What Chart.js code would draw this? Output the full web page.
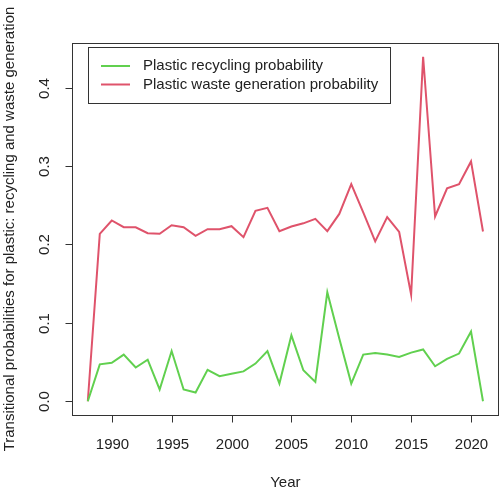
<!DOCTYPE html>
<html>
<head>
<meta charset="utf-8">
<script src="https://cdn.jsdelivr.net/npm/chart.js@4"></script>
<style>
  html, body { margin: 0; padding: 0; background: #fff; }
  #wrap { width: 500px; height: 493px; }
</style>
</head>
<body>
<div id="wrap"><canvas id="chart" width="500" height="493"></canvas></div>
<script>
// data
var years = [];
for (var y = 1988; y <= 2021; y++) years.push(y);

var recycling = [
  0.0, 0.047, 0.049, 0.0595, 0.043, 0.053, 0.015, 0.064, 0.015, 0.011,
  0.040, 0.032, 0.035, 0.038, 0.048, 0.064, 0.0225, 0.084, 0.0395, 0.0246,
  0.139, 0.080, 0.0225, 0.0595, 0.0615, 0.0595, 0.0565, 0.062, 0.066, 0.0446,
  0.054, 0.0608, 0.089, 0.0
];

var wasteGen = [
  0.0, 0.2136, 0.2306, 0.222, 0.222, 0.2144, 0.2136, 0.2246, 0.222, 0.211,
  0.2195, 0.2195, 0.2233, 0.2093, 0.243, 0.2467, 0.217, 0.223, 0.227, 0.2327,
  0.217, 0.239, 0.277, 0.241, 0.204, 0.235, 0.216, 0.136, 0.4395, 0.2357,
  0.2717, 0.277, 0.306, 0.2166
];

var xTicks = [1990, 1995, 2000, 2005, 2010, 2015, 2020];
var yTicks = [0.0, 0.1, 0.2, 0.3, 0.4];
var yTickLabels = ["0.0", "0.1", "0.2", "0.3", "0.4"];

var seriesNames = ["Plastic recycling probability", "Plastic waste generation probability"];
var seriesColors = ["#61D04F", "#DF536B"];

var xTitle = "Year";
var yTitle = "Transitional probabilities for plastic: recycling and waste generation";

var FONT = '15px "Liberation Sans", Arial, sans-serif';
var INK = "#222";

// R style axes, box and legend
var rAxes = {
  id: "rAxes",
  afterDraw: function (chart) {
    var ctx = chart.ctx;
    var area = chart.chartArea;
    var xs = chart.scales.x;
    var ys = chart.scales.y;
    ctx.save();
    ctx.strokeStyle = "#333";
    ctx.fillStyle = INK;
    ctx.lineWidth = 1;
    ctx.font = FONT;

    // box
    ctx.strokeRect(Math.round(area.left) + 0.5, Math.round(area.top) + 0.5,
      Math.round(area.right - area.left) - 1, Math.round(area.bottom - area.top));

    // x axis
    var yb = Math.round(area.bottom) + 0.5;
    ctx.textAlign = "center";
    ctx.textBaseline = "middle";
    xTicks.forEach(function (v) {
      var px = Math.round(xs.getPixelForValue(v)) + 0.5;
      ctx.beginPath();
      ctx.moveTo(px, yb);
      ctx.lineTo(px, yb + 7);
      ctx.stroke();
      ctx.fillText(String(v), px, 445);
    });
    ctx.fillText(xTitle, (area.left + area.right) / 2, 483);

    // y axis
    var xl = Math.round(area.left) + 0.5;
    yTicks.forEach(function (v, i) {
      var py = Math.round(ys.getPixelForValue(v)) + 0.5;
      ctx.beginPath();
      ctx.moveTo(xl, py);
      ctx.lineTo(xl - 7, py);
      ctx.stroke();
      ctx.save();
      ctx.translate(45, py);
      ctx.rotate(-Math.PI / 2);
      ctx.fillText(yTickLabels[i], 0, 0);
      ctx.restore();
    });
    ctx.save();
    ctx.translate(10, (area.top + area.bottom) / 2);
    ctx.rotate(-Math.PI / 2);
    ctx.fillText(yTitle, 0, 0);
    ctx.restore();

    // legend
    ctx.strokeRect(88.5, 47.5, 302, 56);
    ctx.textAlign = "left";
    var rows = [66, 84.5];
    seriesNames.forEach(function (name, i) {
      ctx.strokeStyle = seriesColors[i];
      ctx.lineWidth = 2;
      ctx.beginPath();
      ctx.moveTo(101, rows[i]);
      ctx.lineTo(130, rows[i]);
      ctx.stroke();
      ctx.fillStyle = INK;
      ctx.fillText(name, 143, rows[i]);
    });
    ctx.restore();
  }
};

new Chart(document.getElementById("chart").getContext("2d"), {
  type: "line",
  data: {
    labels: years,
    datasets: [
      {
        label: seriesNames[0],
        data: years.map(function (yr, i) { return { x: yr, y: recycling[i] }; }),
        borderColor: seriesColors[0],
        borderWidth: 2,
        pointRadius: 0,
        tension: 0,
        fill: false
      },
      {
        label: seriesNames[1],
        data: years.map(function (yr, i) { return { x: yr, y: wasteGen[i] }; }),
        borderColor: seriesColors[1],
        borderWidth: 2,
        pointRadius: 0,
        tension: 0,
        fill: false
      }
    ]
  },
  options: {
    responsive: false,
    animation: false,
    layout: { padding: { left: 72, top: 43, right: 1.2, bottom: 78 } },
    plugins: { legend: { display: false }, tooltip: { enabled: false } },
    scales: {
      x: { type: "linear", display: false, min: 1986.68, max: 2022.32 },
      y: { type: "linear", display: false, min: -0.0176, max: 0.4571 }
    }
  },
  plugins: [rAxes]
});
</script>
</body>
</html>
